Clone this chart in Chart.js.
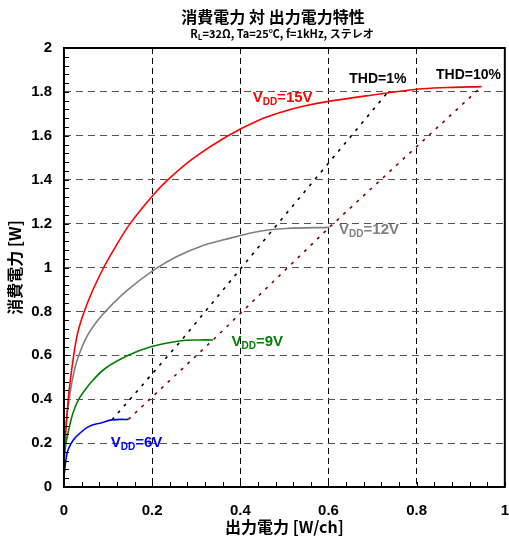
<!DOCTYPE html>
<html>
<head>
<meta charset="utf-8">
<script src="https://cdn.jsdelivr.net/npm/chart.js@4/dist/chart.umd.min.js"></script>
<style>
html, body { margin: 0; padding: 0; background: #fff; }
#wrap { width: 509px; height: 544px; }
</style>
</head>
<body>
<div id="wrap"><canvas id="pdChart" width="509" height="544"></canvas></div>
<script>
// Output power [W/ch] -> power dissipation [W]
const vdd15Out = [0, 0.003, 0.0106, 0.022, 0.032, 0.046, 0.065, 0.09, 0.12, 0.15, 0.2, 0.236, 0.293, 0.372, 0.443, 0.5, 0.55, 0.6, 0.7, 0.8, 0.87, 0.947];
const vdd15Pd  = [0.14, 0.22, 0.42, 0.6, 0.71, 0.8, 0.895, 1.0, 1.105, 1.2, 1.325, 1.4, 1.497, 1.6, 1.672, 1.712, 1.738, 1.757, 1.786, 1.812, 1.82, 1.824];

const vdd12Out = [0, 0.003, 0.0106, 0.0256, 0.048, 0.071, 0.101, 0.146, 0.205, 0.255, 0.308, 0.36, 0.447, 0.504, 0.602];
const vdd12Pd  = [0.11, 0.25, 0.385, 0.548, 0.67, 0.745, 0.815, 0.90, 0.99, 1.049, 1.095, 1.125, 1.166, 1.178, 1.183];

const vdd9Out = [0, 0.003, 0.0106, 0.02, 0.032, 0.045, 0.065, 0.094, 0.146, 0.199, 0.262, 0.308, 0.338];
const vdd9Pd  = [0.093, 0.18, 0.26, 0.335, 0.395, 0.435, 0.485, 0.541, 0.60, 0.64, 0.665, 0.67, 0.67];

const vdd6Out = [0, 0.0068, 0.014, 0.0256, 0.056, 0.086, 0.109, 0.146];
const vdd6Pd  = [0.05, 0.153, 0.19, 0.225, 0.275, 0.293, 0.306, 0.308];

// distortion limit lines
const thd1Out = [0.109, 0.265, 0.477, 0.735];
const thd1Pd  = [0.306, 0.665, 1.18, 1.80];
const thd10Out = [0.146, 0.338, 0.602, 0.945];
const thd10Pd  = [0.308, 0.67, 1.183, 1.82];

const xTicks = [0, 0.2, 0.4, 0.6, 0.8, 1];
const yTicks = [0, 0.2, 0.4, 0.6, 0.8, 1, 1.2, 1.4, 1.6, 1.8, 2];

const toPoints = (xs, ys) => xs.map((v, i) => ({ x: v, y: ys[i] }));
const fmt = v => String(Math.round(v * 10) / 10);

const curve = (label, xs, ys, color) => ({
    label, data: toPoints(xs, ys), borderColor: color, borderWidth: 1.6,
    pointRadius: 0, showLine: true, fill: false, tension: 0.4
});
const thdLine = (label, xs, ys, color) => ({
    label, data: toPoints(xs, ys), borderColor: color, borderWidth: 1.6,
    borderDash: [3, 6], pointRadius: 0, showLine: true, fill: false, tension: 0
});

// VDD / THD labels, placed in data units
const curveLabels = [
    { x: 0.428, y: 1.777, color: "#ff0000", volts: "15V" },
    { x: 0.624, y: 1.175, color: "#808080", volts: "12V" },
    { x: 0.380, y: 0.667, color: "#008000", volts: "9V" },
    { x: 0.106, y: 0.205, color: "#0000ff", volts: "6V" }
];
const thdLabels = [
    { x: 0.647, y: 1.859, text: "THD=1%" },
    { x: 0.844, y: 1.875, text: "THD=10%" }
];

const LATIN = "'Liberation Sans', Arial, sans-serif";
const CJK = "'Noto Sans CJK JP', 'Noto Sans', sans-serif";
const NONE = "rgba(0,0,0,0)";

const decor = {
    id: "decor",
    afterDatasetsDraw(chart) {
        const { ctx, chartArea: a, scales: { x, y } } = chart;
        ctx.save();
        // minor ticks, pointing inward
        ctx.strokeStyle = "#000";
        ctx.lineWidth = 1;
        ctx.beginPath();
        for (let i = 0; i <= 25; i++) {
            const px = Math.round(x.getPixelForValue(i * 0.04)) + 0.5;
            ctx.moveTo(px, a.bottom);
            ctx.lineTo(px, a.bottom - 5);
        }
        for (let i = 0; i <= 50; i++) {
            const py = Math.round(y.getPixelForValue(i * 0.04)) + 0.5;
            ctx.moveTo(a.left, py);
            ctx.lineTo(a.left + 5, py);
        }
        ctx.stroke();
        // frame
        ctx.lineWidth = 2;
        ctx.strokeRect(a.left, a.top, a.right - a.left, a.bottom - a.top);

        // VDD labels
        ctx.textBaseline = "alphabetic";
        ctx.textAlign = "left";
        curveLabels.forEach(l => {
            let px = x.getPixelForValue(l.x);
            const py = y.getPixelForValue(l.y) + 5;
            ctx.fillStyle = l.color;
            ctx.font = "bold 15px " + LATIN;
            ctx.fillText("V", px, py);
            px += ctx.measureText("V").width;
            ctx.font = "bold 10px " + LATIN;
            ctx.fillText("DD", px, py + 3);
            px += ctx.measureText("DD").width;
            ctx.font = "bold 15px " + LATIN;
            ctx.fillText("=" + l.volts, px, py);
        });
        ctx.fillStyle = "#000";
        ctx.font = "bold 14px " + LATIN;
        ctx.textBaseline = "middle";
        thdLabels.forEach(l => ctx.fillText(l.text, x.getPixelForValue(l.x), y.getPixelForValue(l.y)));
        ctx.restore();
    },
    afterDraw(chart) {
        const { ctx } = chart;
        ctx.save();
        ctx.fillStyle = "#000";
        ctx.textBaseline = "middle";
        ctx.textAlign = "center";
        ctx.font = "bold 16px " + CJK;
        ctx.fillText("消費電力 対 出力電力特性", 273, 17);
        // subtitle with subscript L
        const big = "bold 11px " + CJK, small = "bold 8px " + CJK;
        const rest = "=32Ω, Ta=25℃, f=1kHz, ステレオ";
        ctx.font = big;
        const wR = ctx.measureText("R").width, wRest = ctx.measureText(rest).width;
        ctx.font = small;
        const wL = ctx.measureText("L").width;
        let sx = 282 - (wR + wL + wRest) / 2;
        ctx.textAlign = "left";
        ctx.font = big;
        ctx.fillText("R", sx, 34);
        sx += wR;
        ctx.font = small;
        ctx.fillText("L", sx, 37);
        sx += wL;
        ctx.font = big;
        ctx.fillText(rest, sx, 34);
        ctx.restore();
    }
};

new Chart(document.getElementById("pdChart").getContext("2d"), {
    type: "scatter",
    data: {
        datasets: [
            thdLine("THD=1%", thd1Out, thd1Pd, "#000000"),
            thdLine("THD=10%", thd10Out, thd10Pd, "#800000"),
            curve("VDD=15V", vdd15Out, vdd15Pd, "#ff0000"),
            curve("VDD=12V", vdd12Out, vdd12Pd, "#808080"),
            curve("VDD=9V", vdd9Out, vdd9Pd, "#008000"),
            curve("VDD=6V", vdd6Out, vdd6Pd, "#0000ff")
        ]
    },
    options: {
        responsive: false,
        animation: false,
        layout: { padding: { top: 48, left: 0, right: 3, bottom: 0 } },
        plugins: { legend: { display: false }, tooltip: { enabled: false } },
        scales: {
            x: {
                type: "linear", min: 0, max: 1,
                afterBuildTicks: s => { s.ticks = xTicks.map(v => ({ value: v })); },
                afterFit: s => { s.height = 57; },
                ticks: { callback: fmt, color: "#000", padding: 0, maxRotation: 0, font: { family: LATIN, size: 15, weight: "bold" } },
                grid: { color: "#000", lineWidth: 1, drawTicks: true, tickLength: 15, tickColor: NONE },
                border: { display: false, dash: [6, 4] },
                title: { display: true, text: "出力電力 [W/ch]", color: "#000", padding: { top: 0, bottom: 7 }, font: { family: CJK, size: 16, weight: "bold" } }
            },
            y: {
                type: "linear", min: 0, max: 2,
                afterBuildTicks: s => { s.ticks = yTicks.map(v => ({ value: v })); },
                afterFit: s => { s.width = 64; },
                ticks: { callback: fmt, color: "#000", padding: 0, font: { family: LATIN, size: 15, weight: "bold" } },
                grid: { color: "#555", lineWidth: 1, drawTicks: true, tickLength: 12, tickColor: NONE },
                border: { display: false, dash: [7, 5] },
                title: { display: true, text: "消費電力 [W]", color: "#000", padding: { top: 5, bottom: 0 }, font: { family: CJK, size: 16, weight: "bold" } }
            }
        }
    },
    plugins: [decor]
});
</script>
</body>
</html>
